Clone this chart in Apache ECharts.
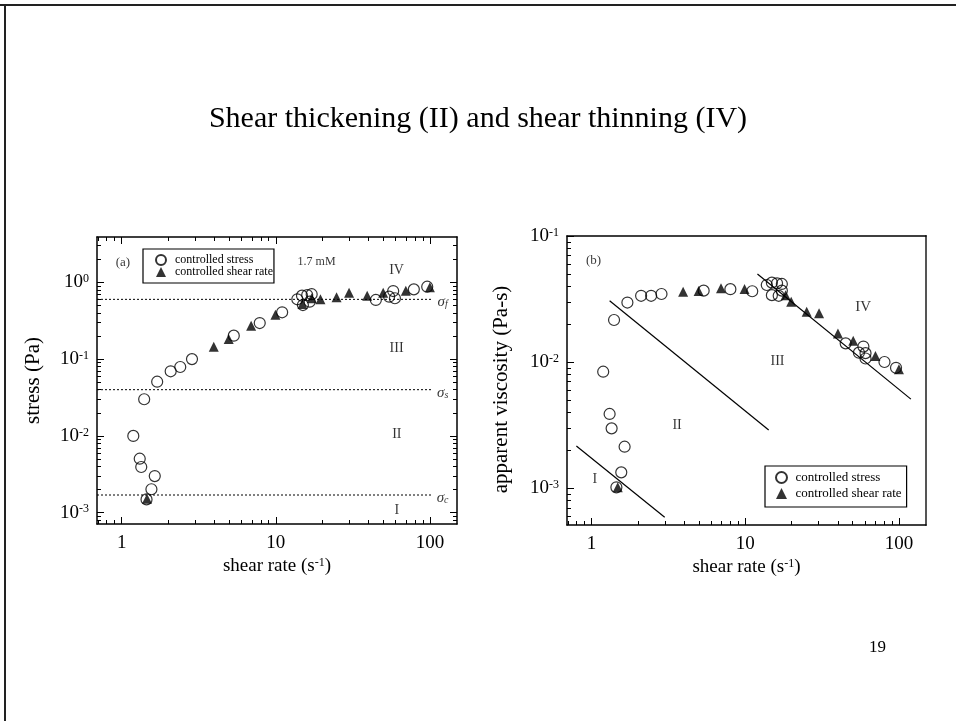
<!DOCTYPE html>
<html>
<head>
<meta charset="utf-8">
<title>Shear thickening and shear thinning</title>
<script src="https://cdn.jsdelivr.net/npm/echarts@6/dist/echarts.min.js"></script>
<style>
  html, body { margin: 0; padding: 0; background: #fff; }
  #chart { width: 956px; height: 721px; }
</style>
</head>
<body>
<div id="chart"></div>
<script>
// (a) stress vs shear rate
const aStressRate = [1.19, 1.31, 1.34, 1.64, 1.56, 1.45, 1.40, 1.70, 2.08, 2.40, 2.86, 5.34, 7.87, 11.0, 13.8, 14.8, 15.0, 16.0, 16.6, 17.1, 44.6, 54.4, 57.8, 59.3, 78.7, 96.1]
const aStress = [0.0100, 0.00505, 0.00394, 0.0030, 0.00202, 0.00149, 0.030, 0.0508, 0.0694, 0.0789, 0.100, 0.202, 0.295, 0.407, 0.601, 0.67, 0.506, 0.683, 0.559, 0.70, 0.589, 0.65, 0.77, 0.62, 0.81, 0.877]
const aRateRate = [1.46, 3.96, 4.95, 6.92, 9.95, 14.9, 17.1, 19.5, 24.8, 29.9, 39.2, 49.8, 69.8, 100]
const aRateStress = [0.00152, 0.145, 0.183, 0.272, 0.379, 0.522, 0.62, 0.601, 0.638, 0.733, 0.67, 0.733, 0.778, 0.861]

// critical stresses (dotted lines)
const sigmaLevels = [0.0017, 0.04, 0.6]
const sigmaSubs = ['c', 's', 'f']
const sigmaLineEnd = 102
const sigmaLabelRate = 121

// (b) apparent viscosity vs shear rate
const bStressRate = [1.19, 1.31, 1.35, 1.64, 1.56, 1.45, 1.40, 1.71, 2.10, 2.44, 2.85, 5.36, 8.0, 11.1, 13.8, 14.9, 16.1, 17.3, 14.9, 16.5, 17.3, 45.0, 54.9, 58.7, 60.6, 60.6, 80.5, 95.7]
const bVisc = [0.00841, 0.00389, 0.00299, 0.00214, 0.00134, 0.00102, 0.0216, 0.0297, 0.0336, 0.0336, 0.0347, 0.0369, 0.0379, 0.0365, 0.0409, 0.0427, 0.0422, 0.0417, 0.0340, 0.0336, 0.0369, 0.0141, 0.0119, 0.0133, 0.0118, 0.0107, 0.01004, 0.00903]
const bRateRate = [1.48, 3.94, 4.97, 6.95, 9.89, 18.3, 19.9, 25.1, 30.2, 40.1, 50.4, 70.3, 100]
const bRateVisc = [0.00102, 0.0362, 0.0366, 0.0385, 0.0380, 0.0340, 0.0301, 0.0251, 0.0244, 0.0169, 0.0148, 0.0112, 0.00879]

// slope -1 guide lines in (b): end points
const guideRates = [[0.796, 2.99], [1.31, 14.2], [12.0, 119.6]]
const guideVisc = [[0.00217, 0.00059], [0.0307, 0.0029], [0.050, 0.0051]]

// text notes
const aNotes = ['(a)', '1.7 mM', 'IV', 'III', 'II', 'I']
const aNoteRate = [1.02, 18.4, 60.8, 60.8, 61, 61]
const aNoteStress = [1.8, 1.85, 1.45, 0.138, 0.0106, 0.00109]
const bNotes = ['(b)', 'IV', 'III', 'II', 'I']
const bNoteRate = [1.03, 58.6, 16.2, 3.6, 1.05]
const bNoteVisc = [0.0637, 0.0272, 0.0101, 0.00318, 0.00117]

// tick labels
const xTickRates = [1, 10, 100]
const aTickStress = [0.001, 0.01, 0.1, 1]
const bTickVisc = [0.001, 0.01, 0.1]

const lg = Math.log10
const serif = '"Liberation Serif", "Times New Roman", serif'
const X_MIN = -0.16
const X_MAX = 2.176

const pairs = (xs, ys) => xs.map((x, i) => [lg(x), lg(ys[i])])

// 2..9 minor ticks for each decade
const minorTicks = (lo, hi) => {
  const out = []
  for (let e = lo; e <= hi; e++) {
    for (let k = 2; k <= 9; k++) out.push(lg(k) + e)
  }
  return out
}

const tickAxis = (gridIndex, position, min, max, values, len, line) => ({
  type: 'value',
  gridIndex,
  position,
  min,
  max,
  axisLine: { show: !!line, onZero: false, lineStyle: line || { color: '#000', width: 1.5 } },
  axisTick: {
    show: values.length > 0,
    inside: true,
    length: len,
    customValues: values,
    lineStyle: { color: '#000', width: 1 }
  },
  axisLabel: { show: false },
  splitLine: { show: false }
})

const boxLine = { color: '#000', width: 1.5 }
const supRich = {
  b: { fontFamily: serif, fontSize: 19, color: '#000' },
  sup: { fontFamily: serif, fontSize: 12, color: '#000', verticalAlign: 'top' }
}
const nameRich = {
  t: { fontFamily: serif, fontSize: 19, color: '#000' },
  sup: { fontFamily: serif, fontSize: 12, color: '#000', verticalAlign: 'top' }
}

const xMajorVals = xTickRates.map(lg)
const xLabelAxis = (gridIndex) => {
  const ax = tickAxis(gridIndex, 'bottom', X_MIN, X_MAX, xMajorVals, 7, boxLine)
  ax.axisLabel = {
    show: true,
    customValues: xMajorVals,
    margin: 10,
    formatter: (v) => String(Math.round(Math.pow(10, v))),
    fontFamily: serif,
    fontSize: 19,
    color: '#000'
  }
  ax.name = '{t|shear rate (s}{sup|-1}{t|)}'
  ax.nameLocation = 'middle'
  ax.nameGap = 33
  ax.nameTextStyle = { rich: nameRich }
  return ax
}

const yLabelAxis = (gridIndex, min, max, ticks, name, gap, pad) => {
  const vals = ticks.map(lg)
  const ax = tickAxis(gridIndex, 'left', min, max, vals, 7, boxLine)
  ax.axisLabel = {
    show: true,
    customValues: vals,
    margin: 8,
    formatter: (v) => '{b|10}{sup|' + Math.round(v) + '}',
    rich: supRich
  }
  ax.name = name
  ax.nameLocation = 'middle'
  ax.nameGap = gap
  ax.nameTextStyle = { fontFamily: serif, fontSize: 21, color: '#000', padding: pad }
  return ax
}

const A_YMIN = -3.147
const A_YMAX = 0.59
const B_YMIN = -3.29
const B_YMAX = -1

const xAxes = [
  xLabelAxis(0),
  tickAxis(0, 'bottom', X_MIN, X_MAX, minorTicks(-1, 2), 4),
  tickAxis(0, 'top', X_MIN, X_MAX, xMajorVals, 7, boxLine),
  tickAxis(0, 'top', X_MIN, X_MAX, minorTicks(-1, 2), 4),
  xLabelAxis(1),
  tickAxis(1, 'bottom', X_MIN, X_MAX, minorTicks(-1, 2), 4),
  tickAxis(1, 'top', X_MIN, X_MAX, [], 0, boxLine)
]
const aYMajor = aTickStress.map(lg)
const yAxes = [
  yLabelAxis(0, A_YMIN, A_YMAX, aTickStress, 'stress (Pa)', 53, 0),
  tickAxis(0, 'left', A_YMIN, A_YMAX, minorTicks(-4, 0), 4),
  tickAxis(0, 'right', A_YMIN, A_YMAX, aYMajor, 7, boxLine),
  tickAxis(0, 'right', A_YMIN, A_YMAX, minorTicks(-4, 0), 4),
  yLabelAxis(1, B_YMIN, B_YMAX, bTickVisc, 'apparent viscosity (Pa-s)', 55, [0, 18, 0, 0]),
  tickAxis(1, 'left', B_YMIN, B_YMAX, minorTicks(-4, -2), 4),
  tickAxis(1, 'right', B_YMIN, B_YMAX, [], 0, { color: '#555', width: 2 })
]

const noteSeries = (xi, notes, rates, vals, sizes) => ({
  type: 'scatter',
  xAxisIndex: xi,
  yAxisIndex: xi,
  symbolSize: 0,
  silent: true,
  z: 5,
  data: notes.map((t, i) => ({
    value: [lg(rates[i]), lg(vals[i])],
    label: { formatter: t, fontSize: sizes[i] }
  })),
  label: { show: true, position: 'inside', fontFamily: serif, color: '#000' }
})

const openCircle = { color: 'rgba(255,255,255,0)', borderColor: '#000', borderWidth: 1.2 }
const solid = { color: '#000' }

const series = []

// (a)
sigmaLevels.forEach((lv) => {
  series.push({
    type: 'line',
    xAxisIndex: 0,
    yAxisIndex: 0,
    symbol: 'none',
    silent: true,
    data: [[X_MIN, lg(lv)], [lg(sigmaLineEnd), lg(lv)]],
    lineStyle: { color: '#000', width: 1, type: [2, 2] }
  })
})
series.push({
  type: 'scatter',
  xAxisIndex: 0,
  yAxisIndex: 0,
  symbolSize: 0,
  silent: true,
  data: sigmaLevels.map((lv, i) => ({
    value: [lg(sigmaLabelRate), lg(lv)],
    label: { formatter: '{s|σ}{sub|' + sigmaSubs[i] + '}' }
  })),
  label: {
    show: true,
    position: 'inside',
    offset: [0, 3],
    rich: {
      s: { fontFamily: serif, fontStyle: 'italic', fontSize: 15, color: '#000' },
      sub: { fontFamily: serif, fontStyle: 'italic', fontSize: 10, color: '#000', verticalAlign: 'bottom' }
    }
  }
})
series.push(noteSeries(0, aNotes, aNoteRate, aNoteStress, [13, 12, 14, 14, 14, 14]))
series.push({
  name: 'controlled stress',
  type: 'scatter',
  xAxisIndex: 0,
  yAxisIndex: 0,
  symbol: 'circle',
  symbolSize: 11,
  itemStyle: openCircle,
  data: pairs(aStressRate, aStress)
})
series.push({
  name: 'controlled shear rate',
  type: 'scatter',
  xAxisIndex: 0,
  yAxisIndex: 0,
  symbol: 'triangle',
  symbolSize: 10,
  itemStyle: solid,
  data: pairs(aRateRate, aRateStress)
})

// (b)
guideRates.forEach((r, i) => {
  series.push({
    type: 'line',
    xAxisIndex: 4,
    yAxisIndex: 4,
    symbol: 'none',
    silent: true,
    data: pairs(r, guideVisc[i]),
    lineStyle: { color: '#000', width: 1.2 }
  })
})
series.push(noteSeries(4, bNotes, bNoteRate, bNoteVisc, [13, 15, 14, 14, 14]))
series.push({
  name: 'controlled stress',
  type: 'scatter',
  xAxisIndex: 4,
  yAxisIndex: 4,
  symbol: 'circle',
  symbolSize: 11,
  itemStyle: openCircle,
  data: pairs(bStressRate, bVisc)
})
series.push({
  name: 'controlled shear rate',
  type: 'scatter',
  xAxisIndex: 4,
  yAxisIndex: 4,
  symbol: 'triangle',
  symbolSize: 10,
  itemStyle: solid,
  data: pairs(bRateRate, bRateVisc)
})

// legend icons keep their aspect inside the wider item box
const legendNames = [
  { name: 'controlled stress', icon: 'path://M10,5A5,5,0,1,1,0,5A5,5,0,1,1,10,5Z' },
  { name: 'controlled shear rate', icon: 'path://M0,10L5,0L10,10Z' }
]

const chart = echarts.init(document.getElementById('chart'))
chart.setOption({
  animation: false,
  backgroundColor: '#fff',
  title: [
    {
      text: 'Shear thickening (II) and shear thinning (IV)',
      left: 'center',
      top: 104,
      padding: 0,
      textStyle: { fontFamily: serif, fontSize: 30, fontWeight: 'normal', color: '#000' }
    },
    {
      text: '19',
      left: 869,
      top: 639,
      padding: 0,
      textStyle: { fontFamily: serif, fontSize: 17, fontWeight: 'normal', color: '#000' }
    }
  ],
  legend: [
    {
      data: legendNames,
      orient: 'vertical',
      left: 143,
      top: 249,
      padding: [5, 1, 5, 12],
      itemGap: 0,
      itemWidth: 18,
      itemHeight: 10,
      symbolKeepAspect: true,
      borderColor: '#000',
      borderWidth: 1.2,
      selectedMode: false,
      textStyle: { fontFamily: serif, fontSize: 12, color: '#000' }
    },
    {
      data: legendNames,
      orient: 'vertical',
      left: 765,
      top: 466,
      padding: [5, 5, 7, 10],
      itemGap: 3,
      itemWidth: 18,
      itemHeight: 11,
      symbolKeepAspect: true,
      borderColor: '#000',
      borderWidth: 1.2,
      selectedMode: false,
      textStyle: { fontFamily: serif, fontSize: 13, color: '#000' }
    }
  ],
  grid: [
    { left: 97, top: 237, width: 360, height: 287, outerBoundsMode: 'none' },
    { left: 567, top: 236, width: 359, height: 289, outerBoundsMode: 'none' }
  ],
  xAxis: xAxes,
  yAxis: yAxes,
  graphic: [
    { type: 'line', shape: { x1: 0, y1: 5, x2: 956, y2: 5 }, style: { stroke: '#222', lineWidth: 2 } },
    { type: 'line', shape: { x1: 5, y1: 5, x2: 5, y2: 721 }, style: { stroke: '#222', lineWidth: 2 } }
  ],
  series
})
</script>
</body>
</html>
